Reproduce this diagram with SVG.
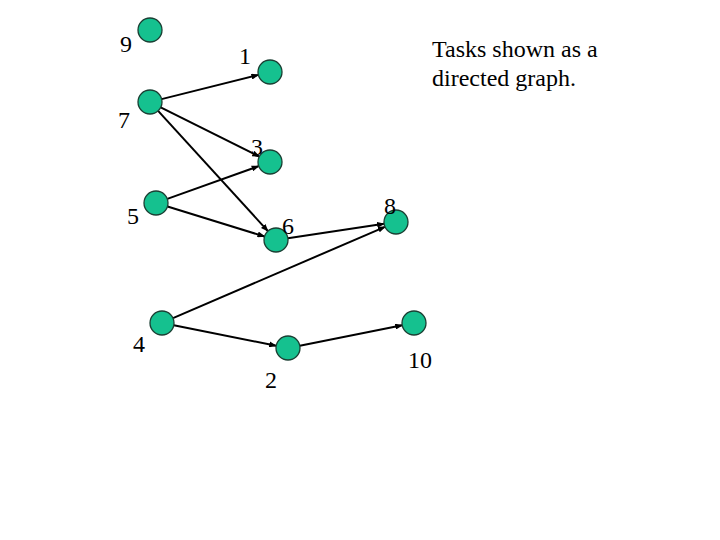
<svg xmlns="http://www.w3.org/2000/svg" width="720" height="540" viewBox="0 0 720 540">
<style>
.node{fill:#15c18f;stroke:#1b3f33;stroke-width:1.3}
.lbl{font-family:"Liberation Serif","Times New Roman",serif;font-size:24px;fill:#000}
.edge{stroke:#000;stroke-width:2;fill:none;marker-end:url(#arr)}
</style>
<defs>
<marker id="arr" markerWidth="8" markerHeight="6" refX="7" refY="3" orient="auto" markerUnits="userSpaceOnUse">
<path d="M0,0 L8,3 L0,6 z" fill="#000"/>
</marker>
</defs>
<rect width="720" height="540" fill="#fff"/>
<g id="connectors">
<line class="edge" x1="161.6" y1="99.1" x2="258.4" y2="74.9"/>
<line class="edge" x1="160.7" y1="107.4" x2="259.3" y2="156.6"/>
<line class="edge" x1="158.1" y1="110.9" x2="267.9" y2="231.1"/>
<line class="edge" x1="167.3" y1="198.9" x2="258.7" y2="166.1"/>
<line class="edge" x1="167.5" y1="206.5" x2="264.5" y2="236.5"/>
<line class="edge" x1="287.9" y1="238.2" x2="384.1" y2="223.8"/>
<line class="edge" x1="173" y1="318.2" x2="385" y2="226.8"/>
<line class="edge" x1="173.8" y1="325.3" x2="276.2" y2="345.7"/>
<line class="edge" x1="299.8" y1="345.7" x2="402.2" y2="325.3"/>
</g>
<g id="n9"><circle class="node" cx="150" cy="30" r="12"/><text class="lbl" x="120" y="52">9</text></g>
<g id="n1"><circle class="node" cx="270" cy="72" r="12"/><text class="lbl" x="239" y="64">1</text></g>
<g id="n7"><circle class="node" cx="150" cy="102" r="12"/><text class="lbl" x="118" y="128">7</text></g>
<g id="n3"><circle class="node" cx="270" cy="162" r="12"/><text class="lbl" x="251" y="155">3</text></g>
<g id="n5"><circle class="node" cx="156" cy="203" r="12"/><text class="lbl" x="127" y="224">5</text></g>
<g id="n6"><circle class="node" cx="276" cy="240" r="12"/><text class="lbl" x="282" y="234">6</text></g>
<g id="n8"><circle class="node" cx="396" cy="222" r="12"/><text class="lbl" x="384" y="214">8</text></g>
<g id="n4"><circle class="node" cx="162" cy="323" r="12"/><text class="lbl" x="133" y="352">4</text></g>
<g id="n2"><circle class="node" cx="288" cy="348" r="12"/><text class="lbl" x="265" y="388">2</text></g>
<g id="n10"><circle class="node" cx="414" cy="323" r="12"/><text class="lbl" x="408" y="368">10</text></g>
<g id="caption"><text class="lbl" x="432" y="57">Tasks shown as a</text><text class="lbl" x="432" y="86">directed graph.</text></g>
</svg>
